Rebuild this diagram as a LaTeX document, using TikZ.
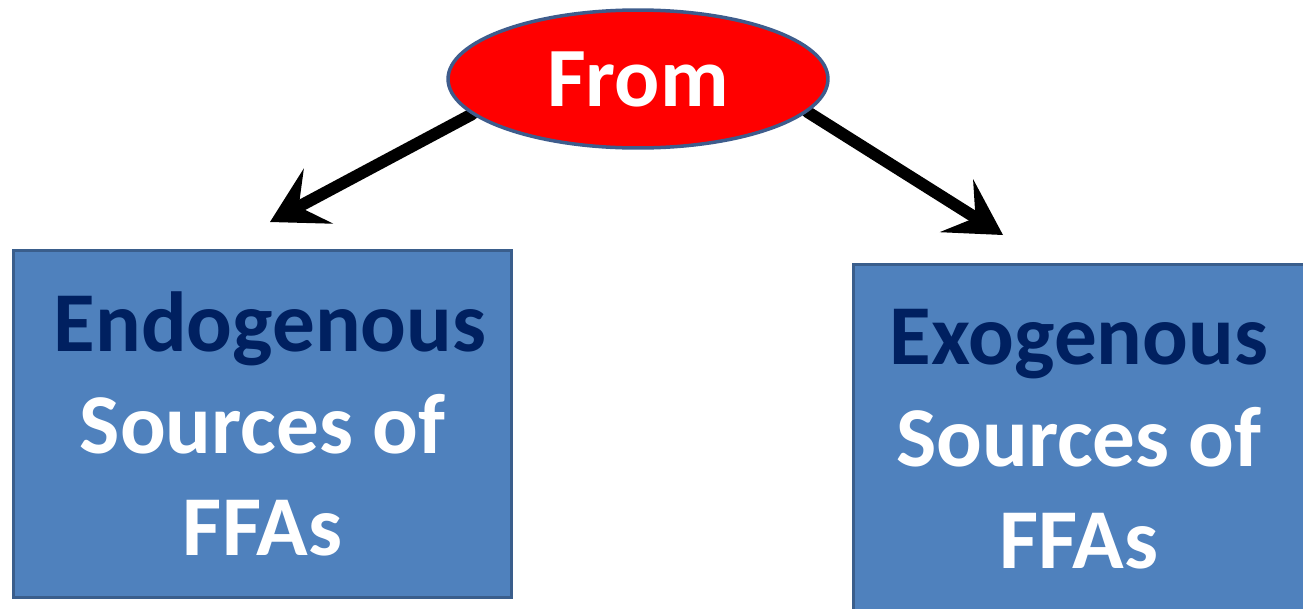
\documentclass[tikz,border=0pt]{standalone}
\usepackage{fontspec}
\setmainfont{Carlito}
\usetikzlibrary{shapes,arrows.meta,backgrounds}
\definecolor{boxblue}{RGB}{79,129,189}
\definecolor{boxedge}{RGB}{58,94,140}
\definecolor{navy}{RGB}{0,32,96}
\definecolor{ovaledge}{RGB}{62,92,140}
\tikzstyle{from oval}=[ellipse,draw=ovaledge,line width=0.07cm,fill=red,inner sep=0pt,minimum width=7.6cm,minimum height=2.76cm,text=white,font=\fontsize{48}{58}\selectfont\bfseries]
\tikzstyle{source box}=[rectangle,draw=boxedge,line width=0.06cm,fill=boxblue,inner sep=0pt,text=white,align=center,font=\fontsize{48.5}{58}\selectfont\bfseries]
\tikzstyle{link}=[line width=0.24cm,line cap=round,-{Stealth[length=1.1cm,width=1.25cm,inset=0.45cm,line width=2pt]}]

\begin{document}
\begin{tikzpicture}[x=0.02cm,y=-0.02cm]
\useasboundingbox (0,0) rectangle (1303,609);
\clip (0,0) rectangle (1303,609);
\node[from oval] (from) at (638,79) {From};
\node[source box,minimum width=9.98cm,minimum height=6.96cm] (endo) at (262.5,424) {\hspace*{0.3cm}\textcolor{navy}{Endogenous}\\Sources of\\FFAs};
\node[source box,minimum width=9.04cm,minimum height=7.02cm] (exo) at (1079,439.5) {\textcolor{navy}{Exogenous}\\Sources of\\FFAs};
\coordinate (endotip) at (270,222);
\coordinate (exotip) at (1003,235);
\begin{scope}[on background layer]
\draw[link] (from.192) -- (endotip);
\draw[link] (from.349) -- (exotip);
\end{scope}
\end{tikzpicture}
\end{document}
